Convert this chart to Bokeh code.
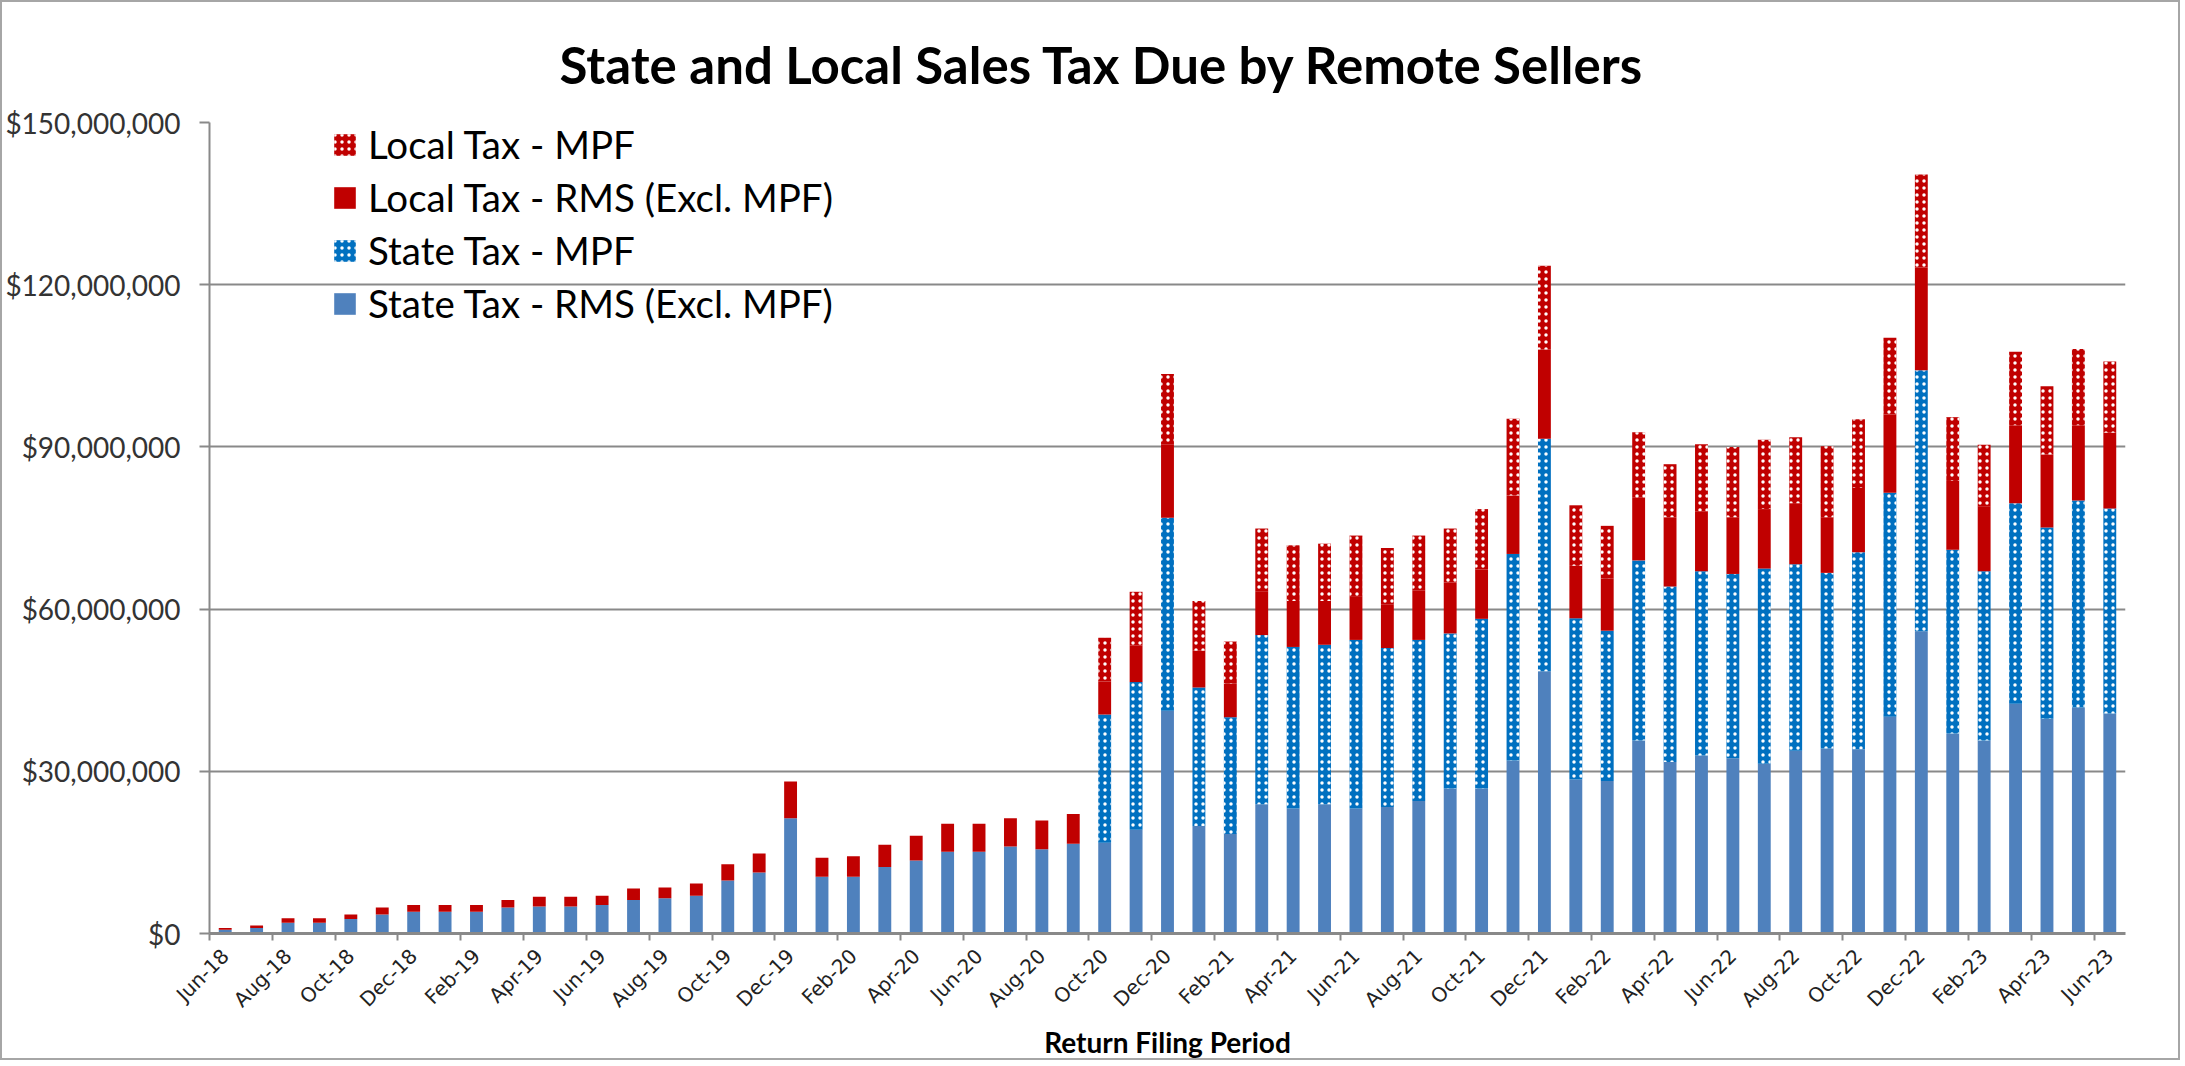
from math import pi
from bokeh.plotting import figure
from bokeh.models import (ColumnDataSource, FixedTicker, NumeralTickFormatter, LinearAxis,
                          Range1d, Legend, LegendItem)
from bokeh.transform import stack
from bokeh.embed import file_html
from bokeh.resources import INLINE

periods = ["Jun-18", "Jul-18", "Aug-18", "Sep-18", "Oct-18", "Nov-18", "Dec-18",
           "Jan-19", "Feb-19", "Mar-19", "Apr-19", "May-19", "Jun-19", "Jul-19", "Aug-19",
           "Sep-19", "Oct-19", "Nov-19", "Dec-19",
           "Jan-20", "Feb-20", "Mar-20", "Apr-20", "May-20", "Jun-20", "Jul-20", "Aug-20",
           "Sep-20", "Oct-20", "Nov-20", "Dec-20",
           "Jan-21", "Feb-21", "Mar-21", "Apr-21", "May-21", "Jun-21", "Jul-21", "Aug-21",
           "Sep-21", "Oct-21", "Nov-21", "Dec-21",
           "Jan-22", "Feb-22", "Mar-22", "Apr-22", "May-22", "Jun-22", "Jul-22", "Aug-22",
           "Sep-22", "Oct-22", "Nov-22", "Dec-22",
           "Jan-23", "Feb-23", "Mar-23", "Apr-23", "May-23", "Jun-23"]

# values in $ millions
state_rms = [0.7, 1.0, 2.0, 2.0, 2.7, 3.5, 4.0, 4.0, 4.0, 4.8, 5.0, 5.0, 5.25, 6.2, 6.5,
             7.0, 9.8, 11.3, 21.3, 10.5, 10.5, 12.3, 13.5, 15.1, 15.1, 16.1, 15.6, 16.6,
             16.8, 19.2, 41.2, 19.9, 18.4, 23.9, 23.1, 23.9, 23.1, 23.4, 24.5, 26.8, 26.8,
             32.0, 48.5, 28.5, 28.2, 35.7, 31.7, 32.9, 32.4, 31.4, 33.8, 34.2, 34.1, 40.1,
             55.9, 37.0, 35.7, 42.5, 39.7, 41.8, 40.7]
state_mpf = [0] * 28 + [23.7, 27.3, 35.7, 25.6, 21.6, 31.3, 29.9, 29.5, 31.2, 29.4, 29.8,
                        28.7, 31.4, 38.2, 43.0, 29.8, 27.8, 33.3, 32.5, 34.1, 34.1, 36.1,
                        34.5, 32.5, 36.4, 41.4, 48.3, 34.0, 31.3, 37.1, 35.4, 38.3, 37.9]
local_rms = [0.3, 0.5, 0.8, 0.8, 0.8, 1.3, 1.25, 1.25, 1.25, 1.4, 1.8, 1.8, 1.75, 2.1, 2.0,
             2.25, 3.0, 3.5, 6.8, 3.5, 3.8, 4.1, 4.6, 5.2, 5.2, 5.2, 5.3, 5.5,
             6.1, 6.8, 13.5, 6.8, 6.2, 8.0, 8.5, 8.1, 8.1, 8.1, 9.1, 9.4, 9.1, 10.8, 16.5,
             9.7, 9.7, 11.6, 12.8, 11.1, 10.5, 11.0, 11.3, 10.3, 11.9, 14.5, 19.0, 12.7,
             12.0, 14.4, 13.5, 13.9, 14.0]
local_mpf = [0] * 28 + [8.1, 9.9, 13.1, 9.2, 7.8, 11.7, 10.3, 10.6, 11.2, 10.4, 10.2, 10.0,
                        11.2, 14.2, 15.5, 11.2, 9.7, 12.1, 9.8, 12.4, 13.0, 12.8, 12.2, 13.1,
                        12.7, 14.2, 17.2, 11.8, 11.4, 13.6, 12.6, 14.1, 13.2]

y_ticks = [0, 30e6, 60e6, 90e6, 120e6, 150e6]

M = 1e6
src = ColumnDataSource(dict(
    x=list(range(len(periods))),
    sr=[v * M for v in state_rms],
    sm=[v * M for v in state_mpf],
    lr=[v * M for v in local_rms],
    lm=[v * M for v in local_mpf],
))

FONT = "Lato"
GRID = "#898989"

p = figure(width=2180, height=1060, x_range=Range1d(-0.5, len(periods) - 0.5),
           y_range=Range1d(0, 150e6), output_backend="svg", toolbar_location=None,
           x_axis_location=None, min_border_left=204, min_border_right=57,
           min_border_top=120, min_border_bottom=126)
p.outline_line_color = None
p.background_fill_color = "white"
p.border_fill_color = "white"
p.styles = {"border": "2px solid #a6a6a6"}

W = 0.41
common = dict(x="x", width=W, source=src, line_color=None)
r_sr = p.vbar(bottom=0, top=stack("sr"), fill_color="#4F81BD", **common)
r_sm = p.vbar(bottom=stack("sr"), top=stack("sr", "sm"), fill_color="#0070C0",
              hatch_pattern="dot", hatch_color="white", hatch_scale=7, hatch_weight=2.5,
              **common)
r_lr = p.vbar(bottom=stack("sr", "sm"), top=stack("sr", "sm", "lr"), fill_color="#C00000",
              **common)
r_lm = p.vbar(bottom=stack("sr", "sm", "lr"), top=stack("sr", "sm", "lr", "lm"),
              fill_color="#C00000", hatch_pattern="dot", hatch_color="white", hatch_scale=7,
              hatch_weight=2.5, **common)

# title
p.title.text = "State and Local Sales Tax Due by Remote Sellers"
p.title.text_font = FONT
p.title.text_font_style = "bold"
p.title.text_font_size = "51px"
p.title.text_color = "black"
p.title.align = "left"
p.title.offset = 350
p.title.standoff = 56

# y axis
ya = p.yaxis[0]
ya.ticker = FixedTicker(ticks=y_ticks)
ya.formatter = NumeralTickFormatter(format="$0,0")
ya.major_label_text_font = FONT
ya.major_label_text_font_size = "28px"
ya.major_label_text_color = "#333333"
ya.axis_line_color = GRID
ya.axis_line_width = 2
ya.major_tick_line_color = GRID
ya.major_tick_line_width = 2
ya.major_tick_out = 10
ya.major_tick_in = 0
ya.minor_tick_line_color = None
ya.major_label_standoff = 19

p.ygrid.grid_line_color = GRID
p.ygrid.grid_line_width = 2
p.xgrid.visible = False

# x axis: tick marks at every second category boundary
bounds = [i - 0.5 for i in range(0, len(periods) + 1, 2)]
tick_axis = LinearAxis(ticker=FixedTicker(ticks=bounds),
                       major_label_overrides={b: "" for b in bounds},
                       axis_line_color=GRID, axis_line_width=3,
                       major_tick_line_color=GRID, major_tick_line_width=2,
                       major_tick_out=7, major_tick_in=0, minor_tick_line_color=None,
                       major_label_standoff=0, major_label_text_font_size="1px")
label_ticks = list(range(0, len(periods), 2))
label_axis = LinearAxis(ticker=FixedTicker(ticks=label_ticks),
                        major_label_overrides={i: periods[i] for i in label_ticks},
                        major_label_orientation=pi / 4,
                        axis_line_color=None, major_tick_line_color=None,
                        minor_tick_line_color=None, major_tick_out=0, major_tick_in=0,
                        major_label_standoff=12,
                        major_label_text_font="DejaVu Sans",
                        major_label_text_font_size="20px",
                        major_label_text_color="#222222",
                        axis_label="Return Filing Period",
                        axis_label_text_font=FONT,
                        axis_label_text_font_style="bold",
                        axis_label_text_font_size="28px",
                        axis_label_text_color="black",
                        axis_label_standoff=2)
p.add_layout(tick_axis, "below")
p.add_layout(label_axis, "below")

legend = Legend(items=[
    LegendItem(label="Local Tax - MPF", renderers=[r_lm]),
    LegendItem(label="Local Tax - RMS (Excl. MPF)", renderers=[r_lr]),
    LegendItem(label="State Tax - MPF", renderers=[r_sm]),
    LegendItem(label="State Tax - RMS (Excl. MPF)", renderers=[r_sr]),
], location=(122, 607), orientation="vertical",
    background_fill_alpha=0, border_line_color=None,
    label_text_font=FONT, label_text_font_size="38.5px", label_text_color="black",
    glyph_width=27, glyph_height=27, label_height=46, spacing=7, padding=0, margin=0,
    label_standoff=10)
p.add_layout(legend)

open("out.html", "w").write(file_html(p, INLINE))
